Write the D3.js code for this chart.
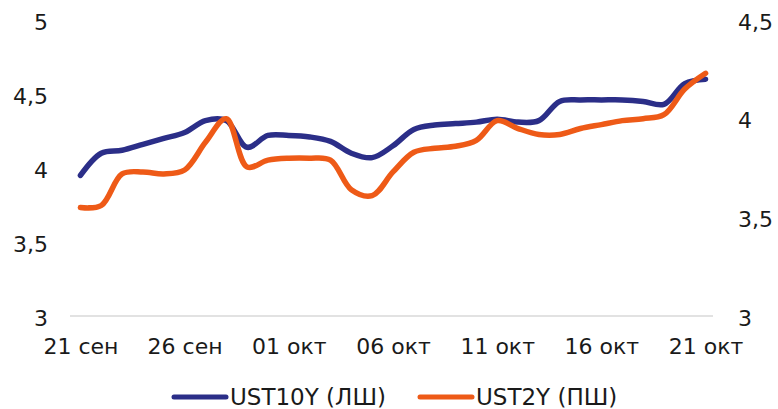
<!DOCTYPE html>
<html>
<head>
<meta charset="utf-8">
<script src="https://cdn.jsdelivr.net/npm/d3@7"></script>
<style>
  body { margin: 0; background: #fff; }
  svg text { font-family: "DejaVu Sans", Verdana, sans-serif; fill: #1a1a1a; }
</style>
</head>
<body>
<svg id="chart" width="778" height="409"></svg>
<script>
// daily values, 21 sep .. 21 oct
const startDate = new Date(2023, 8, 21);
const ust10y = [3.95, 4.10, 4.12, 4.16, 4.20, 4.24, 4.32, 4.32, 4.14, 4.22,
  4.22, 4.21, 4.18, 4.10, 4.07, 4.15, 4.26, 4.29, 4.30, 4.31,
  4.33, 4.31, 4.32, 4.45, 4.46, 4.46, 4.46, 4.45, 4.43, 4.57, 4.60];
const ust2y = [3.55, 3.56, 3.72, 3.73, 3.72, 3.74, 3.88, 4.00, 3.755, 3.79,
  3.80, 3.80, 3.79, 3.64, 3.61, 3.73, 3.83, 3.85, 3.86, 3.89,
  3.99, 3.95, 3.92, 3.92, 3.95, 3.97, 3.99, 4.00, 4.02, 4.15, 4.23];
const leftTicks = [3, 3.5, 4, 4.5, 5];
const rightTicks = [3, 3.5, 4, 4.5];
const tickDates = [0, 5, 10, 15, 20, 25, 30].map(d => d3.timeDay.offset(startDate, d));
const monthNames = ['янв', 'фев', 'мар', 'апр', 'май', 'июн', 'июл', 'авг', 'сен', 'окт', 'ноя', 'дек'];
const legendItems = [
  { name: 'UST10Y (ЛШ)', color: '#2b2e88' },
  { name: 'UST2Y (ПШ)', color: '#ee5a17' }
];

const svg = d3.select('#chart');
const dates = ust10y.map((v, i) => d3.timeDay.offset(startDate, i));

const x = d3.scaleTime()
  .domain([d3.timeHour.offset(startDate, -12), d3.timeHour.offset(dates[dates.length - 1], 12)])
  .range([70, 716]);
const yLeft = d3.scaleLinear().domain([3, 5]).range([316, 20]);
const yRight = d3.scaleLinear().domain([3, 4.5]).range([316, 20]);

const fmt = v => String(v).replace('.', ',');

// baseline gridline
svg.append('line')
  .attr('x1', 70).attr('x2', 713)
  .attr('y1', yLeft(3)).attr('y2', yLeft(3))
  .attr('stroke', '#d9d9d9').attr('stroke-width', 1.5);

// left axis
const leftAxis = svg.append('g')
  .attr('transform', 'translate(48,0)')
  .call(d3.axisLeft(yLeft).tickValues(leftTicks).tickSize(0).tickPadding(0).tickFormat(fmt));
leftAxis.select('.domain').remove();
leftAxis.selectAll('text').attr('font-size', 22).attr('dy', '0.42em');

// right axis
const rightAxis = svg.append('g')
  .attr('transform', 'translate(738,0)')
  .call(d3.axisRight(yRight).tickValues(rightTicks).tickSize(0).tickPadding(0).tickFormat(fmt));
rightAxis.select('.domain').remove();
rightAxis.selectAll('text').attr('font-size', 22).attr('dy', '0.42em');

// x axis
const xAxis = svg.append('g')
  .attr('transform', 'translate(0,338)')
  .call(d3.axisBottom(x).tickValues(tickDates).tickSize(0).tickPadding(0)
    .tickFormat(d => d3.timeFormat('%d')(d) + ' ' + monthNames[d.getMonth()]));
xAxis.select('.domain').remove();
xAxis.selectAll('text').attr('font-size', 22).attr('dy', '0.71em');

// lines
const lineLeft = d3.line()
  .x((d, i) => x(dates[i]))
  .y(d => yLeft(d))
  .curve(d3.curveCatmullRom.alpha(0.5));
const lineRight = d3.line()
  .x((d, i) => x(dates[i]))
  .y(d => yRight(d))
  .curve(d3.curveCatmullRom.alpha(0.5));

svg.append('path')
  .datum(ust10y)
  .attr('d', lineLeft)
  .attr('fill', 'none')
  .attr('stroke', legendItems[0].color)
  .attr('stroke-width', 5.5)
  .attr('stroke-linecap', 'round')
  .attr('stroke-linejoin', 'round');

svg.append('path')
  .datum(ust2y)
  .attr('d', lineRight)
  .attr('fill', 'none')
  .attr('stroke', legendItems[1].color)
  .attr('stroke-width', 5.5)
  .attr('stroke-linecap', 'round')
  .attr('stroke-linejoin', 'round');

// legend
const legendX = [174, 420];
const legend = svg.selectAll('.legend-item')
  .data(legendItems)
  .enter().append('g')
  .attr('class', 'legend-item')
  .attr('transform', (d, i) => 'translate(' + legendX[i] + ',397)');
legend.append('line')
  .attr('x1', 0).attr('x2', 52)
  .attr('stroke', d => d.color)
  .attr('stroke-width', 5)
  .attr('stroke-linecap', 'round');
legend.append('text')
  .attr('x', 56)
  .attr('dy', '0.36em')
  .attr('font-size', 23)
  .text(d => d.name);
</script>
</body>
</html>
